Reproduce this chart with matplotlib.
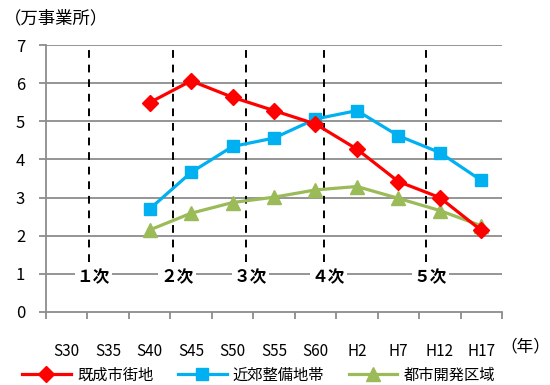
import matplotlib
matplotlib.use("Agg")
import matplotlib.pyplot as plt

plt.rcParams['font.family'] = ['Noto Sans CJK JP', 'DejaVu Sans']

years = ['S30', 'S35', 'S40', 'S45', 'S50', 'S55', 'S60', 'H2', 'H7', 'H12', 'H17']

# 万事業所, S40 onward
kisei = [5.49, 6.06, 5.63, 5.28, 4.93, 4.27, 3.42, 3.00, 2.14]
kinko = [2.70, 3.66, 4.34, 4.56, 5.06, 5.28, 4.62, 4.18, 3.45]
toshi = [2.15, 2.59, 2.87, 3.01, 3.20, 3.29, 2.98, 2.66, 2.26]

# plan periods (boundary in category units, label)
plan_bounds = [0.54, 2.56, 4.33, 6.21, 8.67]
plan_labels = ['１次', '２次', '３次', '４次', '５次']

fig = plt.figure(figsize=(5.5, 3.85), dpi=100)
ax = fig.add_axes([46 / 550, 1 - 312 / 385, 456 / 550, 267 / 385])

x = list(range(len(years)))
xs = x[2:]

grid_c = '#8c8c8c'
for v in range(1, 8):
    ax.axhline(v, color=grid_c, lw=1.3, zorder=1)

for b, lab in zip(plan_bounds, plan_labels):
    ax.plot([b, b], [1.32, 7], color='black', lw=1.4, ls=(0, (4, 3.5)), zorder=2)
    ax.text(b + 0.1, 0.9, lab, ha='center', va='center', fontsize=12, fontweight='bold',
            bbox=dict(facecolor='white', edgecolor='none', pad=1.5), zorder=3)

ax.plot(xs, kisei, color='#ff0000', lw=2.3, marker='D', ms=8, label='既成市街地', zorder=5)
ax.plot(xs, kinko, color='#00b0f0', lw=2.3, marker='s', ms=9, label='近郊整備地帯', zorder=4)
ax.plot(xs, toshi, color='#9bbb59', lw=2.3, marker='^', ms=9.5, label='都市開発区域', zorder=4)

ax.set_xlim(-0.5, len(years) - 0.5)
ax.set_ylim(0, 7)
ax.set_yticks(range(0, 8))
ax.tick_params(axis='y', length=5, width=1.3, color=grid_c, labelsize=12, pad=10)

# category ticks sit on the band edges, labels in the middle
ax.set_xticks([i - 0.5 for i in range(len(years) + 1)])
ax.set_xticklabels([])
ax.set_xticks(x, minor=True)
ax.set_xticklabels(years, minor=True, fontsize=11)
ax.tick_params(axis='x', which='major', length=5, width=1.3, color=grid_c)
ax.tick_params(axis='x', which='minor', length=0, pad=22)

for s in ['top', 'right']:
    ax.spines[s].set_visible(False)
for s in ['left', 'bottom']:
    ax.spines[s].set_color(grid_c)
    ax.spines[s].set_linewidth(1.3)

fig.text(4 / 550, 1 - 18 / 385, '（万事業所）', fontsize=12.5, va='center', ha='left')
fig.text(550 / 550, 1 - 347 / 385, '（年）', fontsize=12, va='center', ha='right')

fig.legend(loc='center', bbox_to_anchor=(0.47, 1 - 375 / 385), ncol=3, frameon=False,
           fontsize=11, handlelength=3.2, handletextpad=0.4, columnspacing=1.6)

fig.savefig('out.png', dpi=100)
